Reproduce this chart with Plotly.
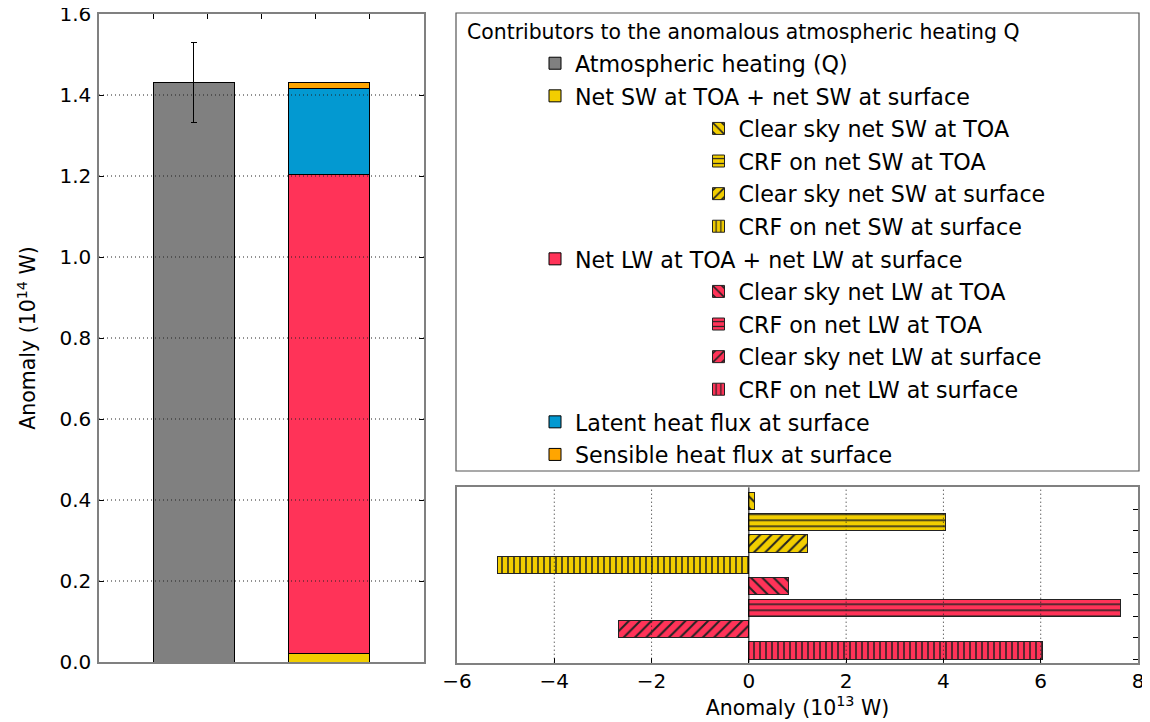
import plotly.graph_objects as go

# ---------------- data ----------------
# left panel (units of 1e14 W)
q_total = 1.431
q_err = 0.099
stack_names = ["Net SW at TOA + net SW at surface", "Net LW at TOA + net LW at surface",
               "Latent heat flux at surface", "Sensible heat flux at surface"]
stack_values = [0.020, 1.183, 0.214, 0.015]

# bottom-right panel (units of 1e13 W), top to bottom
comp_names = ["Clear sky net SW at TOA", "CRF on net SW at TOA",
              "Clear sky net SW at surface", "CRF on net SW at surface",
              "Clear sky net LW at TOA", "CRF on net LW at TOA",
              "Clear sky net LW at surface", "CRF on net LW at surface"]
comp_values = [0.12, 4.05, 1.21, -5.16, 0.81, 7.65, -2.67, 6.03]
comp_hatch = ["\\", "-", "/", "|", "\\", "-", "/", "|"]

left_ticks = [0.0, 0.2, 0.4, 0.6, 0.8, 1.0, 1.2, 1.4, 1.6]
bottom_ticks = [-6, -4, -2, 0, 2, 4, 6, 8]

# ---------------- style ----------------
GRAY = "#808080"
YELLOW = "#F2CE00"
RED = "#FF3358"
BLUE = "#0399D1"
ORANGE = "#FFA500"
stack_colors = [YELLOW, RED, BLUE, ORANGE]
comp_colors = [YELLOW] * 4 + [RED] * 4
FONT = "DejaVu Sans"
W, H = 1150, 722
OFF = 8  # page body margin


def px(x):
    return (x - OFF) / W


def py(y):
    return 1 - (y - OFF) / H


legend_order = ["Atmospheric heating (Q)",
                stack_names[0], comp_names[0], comp_names[1], comp_names[2], comp_names[3],
                stack_names[1], comp_names[4], comp_names[5], comp_names[6], comp_names[7],
                stack_names[2], stack_names[3]]
indented = set(comp_names)


def legend_id(name):
    k = legend_order.index(name)
    return "legend" if k == 0 else f"legend{k + 1}"


fig = go.Figure()

# gray bar with error bar
fig.add_trace(go.Bar(
    x=[0], y=[q_total], width=0.6, name="Atmospheric heating (Q)",
    marker=dict(color=GRAY, line=dict(color="black", width=1)),
    error_y=dict(type="data", array=[q_err], color="black", thickness=1, width=3),
    xaxis="x", yaxis="y", legend=legend_id("Atmospheric heating (Q)"), showlegend=True,
))

# stacked contributors
for name, val, col in zip(stack_names, stack_values, stack_colors):
    fig.add_trace(go.Bar(
        x=[1], y=[val], width=0.6, name=name,
        marker=dict(color=col, line=dict(color="black", width=1)),
        xaxis="x", yaxis="y", legend=legend_id(name), showlegend=True,
    ))

# horizontal components
n = len(comp_names)
for k, (name, val, col, hatch) in enumerate(zip(comp_names, comp_values, comp_colors, comp_hatch)):
    size = 6 if hatch in ("-", "|") else 8
    fig.add_trace(go.Bar(
        y=[n - 1 - k + 0.4], x=[val], width=0.8, orientation="h", name=name,
        marker=dict(color=col, line=dict(color="#222222", width=1),
                    pattern=dict(shape=hatch, fgcolor="#222222", bgcolor=col, size=size,
                                 solidity=0.25, fillmode="replace")),
        xaxis="x2", yaxis="y2", legend=legend_id(name), showlegend=True,
    ))

# ---------------- layout ----------------
shapes = []
for t in left_ticks[1:-1]:
    shapes.append(dict(type="line", xref="x domain", yref="y", x0=0, x1=1, y0=t, y1=t,
                       line=dict(color="#222222", width=1, dash="1px,3px"), layer="above"))
for t in bottom_ticks[1:-1]:
    if t == 0:
        shapes.append(dict(type="line", xref="x2", yref="y2 domain", x0=t, x1=t, y0=0, y1=1,
                           line=dict(color="black", width=1), layer="above"))
    else:
        shapes.append(dict(type="line", xref="x2", yref="y2 domain", x0=t, x1=t, y0=0, y1=1,
                           line=dict(color="#222222", width=1, dash="1px,3px"), layer="above"))
# legend frame
shapes.append(dict(type="rect", xref="paper", yref="paper",
                   x0=px(456), x1=px(1139), y0=py(471), y1=py(13),
                   line=dict(color="#555555", width=1.2), fillcolor="rgba(0,0,0,0)", layer="above"))

legends = {}
for k, name in enumerate(legend_order):
    yc = 63.3 + 32.6 * k
    xtext = 738.5 if name in indented else 575
    legends[legend_id(name)] = dict(
        x=px(xtext - 40), xanchor="left", y=py(yc), yanchor="middle",
        bgcolor="rgba(0,0,0,0)", borderwidth=0,
        font=dict(family=FONT, size=22.2, color="black"),
    )

axis_common = dict(showline=True, linecolor="#808080", linewidth=1.5, zeroline=False,
                   showgrid=False, tickcolor="black", automargin=False,
                   ticklabeloverflow="allow",
                   tickfont=dict(family=FONT, size=20, color="black"))

fig.update_layout(
    width=W, height=H,
    margin=dict(l=0, r=0, t=0, b=0, autoexpand=False),
    paper_bgcolor="white", plot_bgcolor="white",
    barmode="stack",
    font=dict(family=FONT, color="black"),
    shapes=shapes,
    annotations=[dict(text="Contributors to the anomalous atmospheric heating Q",
                      xref="paper", yref="paper", x=px(465), y=py(32),
                      xanchor="left", yanchor="middle", showarrow=False,
                      font=dict(family=FONT, size=20.4, color="black"))],
    xaxis=dict(domain=[px(99), px(424)], range=[-0.7, 1.7], side="top", anchor="y",
               tickvals=[-0.3, 0.1, 0.5, 0.9, 1.3], ticks="inside", ticklen=5,
               showticklabels=False, mirror=True, **axis_common),
    yaxis=dict(domain=[py(662), py(14)], range=[0, 1.6], anchor="x",
               tickvals=left_ticks, tickformat=".1f", ticks="inside", ticklen=5, mirror="ticks",
               ticklabelstandoff=2,
               title=dict(text="Anomaly (10<sup>14</sup> W)", font=dict(family=FONT, size=20.5),
                          standoff=18),
               **axis_common),
    xaxis2=dict(domain=[px(457), px(1138)], range=[-6, 8], anchor="y2",
                tickvals=bottom_ticks, ticks="inside", ticklen=5, mirror=True,
                title=dict(text="Anomaly (10<sup>13</sup> W)", font=dict(family=FONT, size=20.5),
                           standoff=6),
                **axis_common),
    yaxis2=dict(domain=[py(662.7), py(487.3)], range=[-0.17, 8.03], anchor="x2",
                side="right", tickvals=list(range(n)), ticks="inside", ticklen=5,
                showticklabels=False, mirror=True, **axis_common),
    **legends,
)

fig.write_html("out.html")
